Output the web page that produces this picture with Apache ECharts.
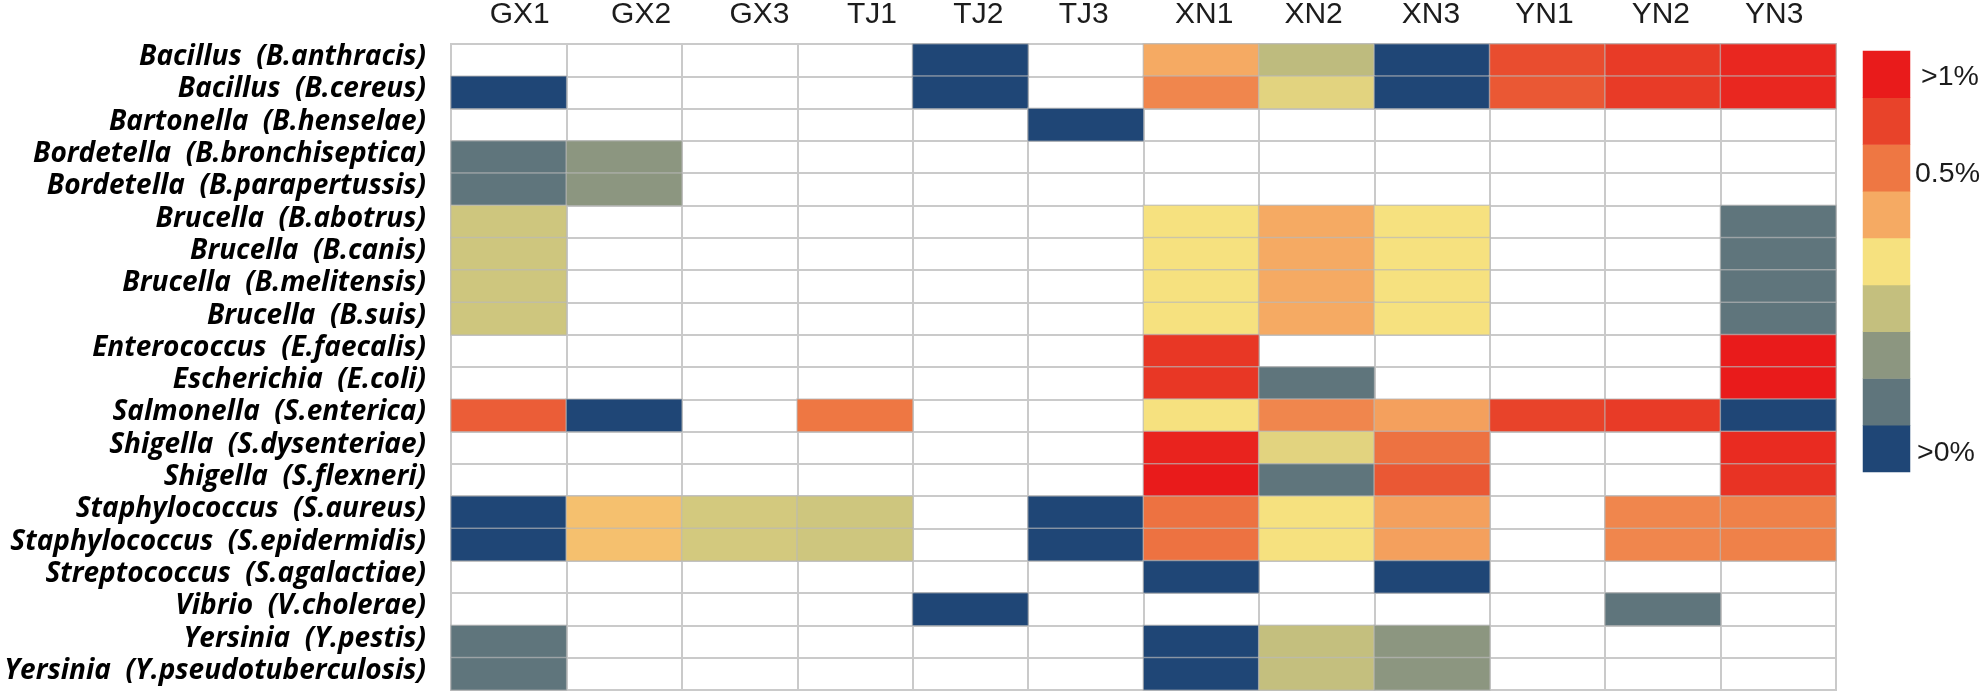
<!DOCTYPE html>
<html>
<head>
<meta charset="utf-8">
<style>html,body{margin:0;padding:0;background:#fff}#main{width:1982px;height:694px}</style>
<script src="https://cdn.jsdelivr.net/npm/echarts@6/dist/echarts.min.js"></script>
</head>
<body>
<div id="main"></div>
<script>
const samples = ["GX1", "GX2", "GX3", "TJ1", "TJ2", "TJ3", "XN1", "XN2", "XN3", "YN1", "YN2", "YN3"]
const species = [
  "Bacillus  (B.anthracis)", "Bacillus  (B.cereus)", "Bartonella  (B.henselae)",
  "Bordetella  (B.bronchiseptica)", "Bordetella  (B.parapertussis)",
  "Brucella  (B.abotrus)", "Brucella  (B.canis)", "Brucella  (B.melitensis)", "Brucella  (B.suis)",
  "Enterococcus  (E.faecalis)", "Escherichia  (E.coli)", "Salmonella  (S.enterica)",
  "Shigella  (S.dysenteriae)", "Shigella  (S.flexneri)",
  "Staphylococcus  (S.aureus)", "Staphylococcus  (S.epidermidis)", "Streptococcus  (S.agalactiae)",
  "Vibrio  (V.cholerae)", "Yersinia  (Y.pestis)", "Yersinia  (Y.pseudotuberculosis)",
]
// abundance level read off the colour of each cell, 1 (>0%) to 9 (>1%), null = not detected
const levels = [
  [null, null, null, null, 1, null, 6, 3.9, 1, 7.8, 8.2, 8.7],
  [1, null, null, null, 1, null, 6.7, 4.6, 1, 7.6, 8.2, 8.7],
  [null, null, null, null, null, 1, null, null, null, null, null, null],
  [2, 3, null, null, null, null, null, null, null, null, null, null],
  [2, 3, null, null, null, null, null, null, null, null, null, null],
  [4.2, null, null, null, null, null, 5, 6, 5, null, null, 2],
  [4.2, null, null, null, null, null, 5, 6, 5, null, null, 2],
  [4.2, null, null, null, null, null, 5, 6, 5, null, null, 2],
  [4.2, null, null, null, null, null, 5, 6, 5, null, null, 2],
  [null, null, null, null, null, null, 8.3, null, null, null, null, 9],
  [null, null, null, null, null, null, 8.3, 2, null, null, null, 9],
  [7.5, 1, null, 7, null, null, 5, 6.7, 6.2, 8, 8.2, 1],
  [null, null, null, null, null, null, 8.8, 4.6, 7.1, null, null, 8.6],
  [null, null, null, null, null, null, 9, 2, 7.6, null, null, 8.4],
  [1, 5.6, 4.3, 4.2, null, 1, 7.1, 5, 6.2, null, 6.7, 6.8],
  [1, 5.6, 4.3, 4.2, null, 1, 7.1, 5, 6.2, null, 6.7, 6.8],
  [null, null, null, null, null, null, 1, null, 1, null, null, null],
  [null, null, null, null, 1, null, null, null, null, null, 2, null],
  [2, null, null, null, null, null, 1, 4, 3, null, null, null],
  [2, null, null, null, null, null, 1, 4, 3, null, null, null],
]
const scaleLevels = [1, 2, 3, 4, 5, 6, 7, 8, 9]
const scaleLabels = [">0%", "", "", "", "", "", "0.5%", "", ">1%"]
const scaleColors = ["#1f4676", "#5f757c", "#8c9680", "#c4bf7e", "#f6e17f", "#f5aa63", "#ee7743", "#e8432a", "#e91b1b"]

// the labels in the figure were placed by hand and do not sit on the column or block centres
const sampleLabelShift = [11, 17, 20, 17, 8, -2, 3, -3, -1, -3, -2, -4]
const scaleLabelShiftX = [59.5, 0, 0, 0, 0, 0, 61, 0, 63.5]
const scaleLabelShiftY = [4.4, 0, 0, 0, 0, 0, 6.5, 0, 2.6]

const cells = []
levels.forEach((row, y) => {
  row.forEach((v, x) => {
    if (v !== null) cells.push([x, y, v])
  })
})

const plainText = (text, x, y, size) => ({
  type: "text",
  x: x,
  y: y,
  style: { text: text, align: "center", verticalAlign: "middle", fill: "#1c1c1c", font: size + "px 'Liberation Sans'" },
})

const myChart = echarts.init(document.getElementById("main"))
myChart.setOption({
  animation: false,
  backgroundColor: "#fff",
  grid: [
    { left: 451, top: 44, width: 1385, height: 646, show: true, borderColor: "#cacaca", borderWidth: 2 },
    { left: 1863, top: 51, width: 47, height: 421 },
  ],
  xAxis: [
    {
      type: "category",
      position: "top",
      data: samples,
      axisLine: { show: false },
      axisTick: { show: false },
      axisLabel: { show: false },
      splitLine: { show: true, interval: 0, lineStyle: { color: "#cacaca", width: 2 } },
    },
    { type: "category", gridIndex: 1, data: ["scale"], show: false },
  ],
  yAxis: [
    {
      type: "category",
      inverse: true,
      data: species,
      axisLine: { show: false },
      axisTick: { show: false },
      axisLabel: {
        interval: 0,
        fontFamily: "Open Sans",
        fontWeight: 700,
        fontStyle: "italic",
        fontSize: 28,
        color: "#000",
        margin: 25,
        verticalAlign: "bottom",
        lineHeight: 6,
      },
      splitLine: { show: true, interval: 0, lineStyle: { color: "#cacaca", width: 2 } },
    },
    {
      type: "category",
      gridIndex: 1,
      position: "right",
      data: scaleLevels,
      axisLine: { show: false },
      axisTick: { show: false },
      axisLabel: { show: false },
    },
  ],
  visualMap: {
    show: false,
    type: "continuous",
    min: 1,
    max: 9,
    seriesIndex: [0, 1],
    dimension: 2,
    inRange: { color: scaleColors },
  },
  series: [
    {
      type: "heatmap",
      data: cells,
      itemStyle: { borderColor: "rgba(185,185,185,0.6)", borderWidth: 1.5 },
    },
    {
      type: "heatmap",
      xAxisIndex: 1,
      yAxisIndex: 1,
      data: scaleLevels.map((v, i) => [0, i, v]),
    },
    {
      type: "custom",
      data: samples.map((s, i) => [i, 0]),
      renderItem: (params, api) => {
        const i = api.value(0)
        const p = api.coord([i, 0])
        return plainText(samples[i], p[0] + sampleLabelShift[i], p[1] - api.size([0, 1])[1] / 2 - 29, 30)
      },
    },
    {
      type: "custom",
      xAxisIndex: 1,
      yAxisIndex: 1,
      data: scaleLevels.map((v, i) => [0, i]),
      renderItem: (params, api) => {
        const i = api.value(1)
        const p = api.coord([0, i])
        return plainText(scaleLabels[i], p[0] + scaleLabelShiftX[i], p[1] + scaleLabelShiftY[i], 28.5)
      },
    },
  ],
})
</script>
</body>
</html>
